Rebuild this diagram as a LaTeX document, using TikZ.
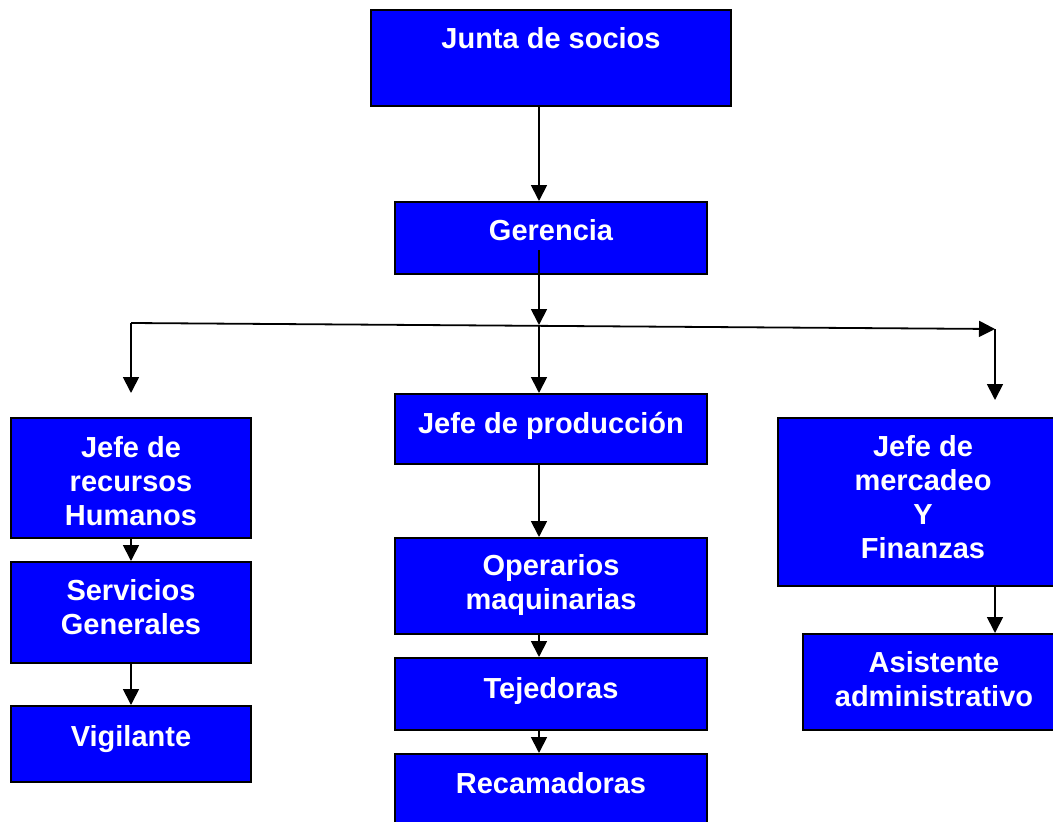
\documentclass[tikz,border=0pt]{standalone}
\usepackage{fontspec}
\setmainfont{Liberation Sans}
\usetikzlibrary{arrows.meta}
\definecolor{boxblue}{HTML}{0000FF}
\newcommand\boxlines[1]{\begin{tabular}[t]{@{}c@{}}#1\end{tabular}}
\tikzset{
  orgbox/.style={draw=black, line width=2pt, fill=boxblue, inner sep=0pt},
  orgtext/.style={anchor=base, text=white, inner sep=0pt, font=\fontsize{29}{34}\selectfont\bfseries},
  conn/.style={line width=1.8pt, -{Triangle[length=16pt 0 0,width=16pt 0 0]}},
}
\begin{document}
\begin{tikzpicture}[x=1pt,y=-1pt]
\useasboundingbox (0,0) rectangle (1053,822);
\clip (0,0) rectangle (1053,822);
\fill[white] (0,0) rectangle (1053,822);

% boxes
\node[orgbox, minimum width=360pt, minimum height=96pt]  (junta) at (551,58) {};
\node[orgbox, minimum width=312pt, minimum height=72pt]  (ger)   at (551,238) {};
\node[orgbox, minimum width=312pt, minimum height=70pt]  (prod)  at (551,429) {};
\node[orgbox, minimum width=240pt, minimum height=120pt] (rec)   at (131,478) {};
\node[orgbox, minimum width=240pt, minimum height=101pt] (serv)  at (131,612.5) {};
\node[orgbox, minimum width=240pt, minimum height=76pt]  (vig)   at (131,744) {};
\node[orgbox, minimum width=312pt, minimum height=96pt]  (oper)  at (551,586) {};
\node[orgbox, minimum width=312pt, minimum height=72pt]  (tej)   at (551,694) {};
\node[orgbox, minimum width=312pt, minimum height=72pt]  (recam) at (551,790) {};
\node[orgbox, minimum width=290pt, minimum height=168pt] (merc)  at (923,502) {};
\node[orgbox, minimum width=262pt, minimum height=96pt]  (asis)  at (934,682) {};

% texts
\node[orgtext] (juntat) at (551,48)  {Junta de socios};
\node[orgtext] (gert)   at (551,240) {Gerencia};
\node[orgtext] (prodt)  at (551,433) {Jefe de producción};
\node[orgtext] (rect)   at (131,457) {\boxlines{Jefe de\\recursos\\Humanos}};
\node[orgtext] (servt)  at (131,600) {\boxlines{Servicios\\Generales}};
\node[orgtext] (vigt)   at (131,746) {Vigilante};
\node[orgtext] (opert)  at (551,575) {\boxlines{Operarios\\maquinarias}};
\node[orgtext] (tejt)   at (551,698) {Tejedoras};
\node[orgtext] (recamt) at (551,793) {Recamadoras};
\node[orgtext] (merct)  at (923,456) {\boxlines{Jefe de\\mercadeo\\Y\\Finanzas}};
\node[orgtext] (asist)  at (934,672) {\boxlines{Asistente\\administrativo}};

% junction coordinates
\coordinate (gstart) at (539,250);
\coordinate (jct) at (539,325);
\coordinate (hl) at (131,323);
\coordinate (hr) at (995,329);
\coordinate (lt) at (131,393);
\coordinate (rt) at (995,400);

% connectors
\draw[conn] (junta.south -| gstart) -- (ger.north -| gstart);
\draw[conn] (gstart) -- (jct);
\draw[conn] (hl) -- (hr);
\draw[conn] (hl) -- (lt);
\draw[conn] (jct) -- (jct |- prod.north);
\draw[conn] (hr) -- (rt);
\draw[conn] (prod.south -| jct) -- (oper.north -| jct);
\draw[conn] (oper.south -| jct) -- (tej.north -| jct);
\draw[conn] (tej.south -| jct) -- (recam.north -| jct);
\draw[conn] (rec.south) -- (serv.north);
\draw[conn] (serv.south) -- (vig.north);
\draw[conn] (merc.south -| hr) -- (asis.north -| hr);
\end{tikzpicture}
\end{document}
